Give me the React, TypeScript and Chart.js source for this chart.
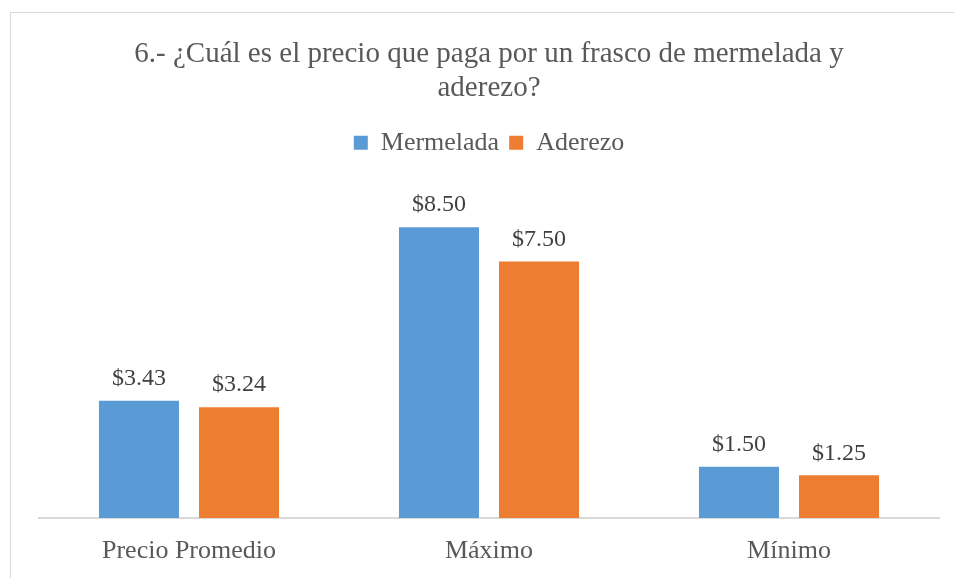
import React, { useEffect, useRef } from "react";
import { Chart, registerables } from "chart.js";

Chart.register(...registerables);

const categories = ["Precio Promedio", "Máximo", "Mínimo"];
const mermelada = [3.43, 8.5, 1.5];
const aderezo = [3.24, 7.5, 1.25];
const seriesNames = ["Mermelada", "Aderezo"];
const titleLines = ["6.- ¿Cuál es el precio que paga por un frasco de mermelada y", "aderezo?"];

const FONT = "'Liberation Serif', 'Times New Roman', serif";

const frame = {
  id: "frame",
  beforeInit(chart: any) {
    const leg = chart.legend;
    if (leg) {
      const origFit = leg.fit;
      leg.fit = function () {
        origFit.call(this);
        this.height += 10;
      };
    }
  },
  beforeDraw(chart: any) {
    const { ctx, width, height } = chart;
    ctx.save();
    ctx.fillStyle = "#ffffff";
    ctx.fillRect(0, 0, width, height);
    ctx.strokeStyle = "#d9d9d9";
    ctx.lineWidth = 1;
    ctx.strokeRect(10.5, 12.5, width + 20, height + 20);
    ctx.restore();
  },
};

const dataLabels = {
  id: "dataLabels",
  afterDatasetsDraw(chart: any) {
    const { ctx } = chart;
    ctx.save();
    ctx.font = `24px ${FONT}`;
    ctx.fillStyle = "#404040";
    ctx.textAlign = "center";
    ctx.textBaseline = "middle";
    chart.data.datasets.forEach((ds: any, i: number) => {
      const meta = chart.getDatasetMeta(i);
      meta.data.forEach((el: any, j: number) => {
        const v = ds.data[j] as number;
        ctx.fillText("$" + v.toFixed(2), el.x, el.y - 22);
      });
    });
    ctx.restore();
  },
};

export default function App() {
  const ref = useRef<HTMLCanvasElement>(null);
  useEffect(() => {
    if (!ref.current) return;
    const chart = new Chart(ref.current, {
      type: "bar",
      data: {
        labels: categories,
        datasets: [
          { label: seriesNames[0], data: mermelada, backgroundColor: "#5B9BD5", categoryPercentage: 0.667, barPercentage: 0.8 },
          { label: seriesNames[1], data: aderezo, backgroundColor: "#ED7D31", categoryPercentage: 0.667, barPercentage: 0.8 },
        ],
      },
      options: {
        responsive: false,
        animation: false,
        layout: { padding: { left: 39, right: 15, top: 0, bottom: 0 } },
        plugins: {
          title: {
            display: true,
            text: titleLines,
            color: "#595959",
            font: { family: FONT, size: 29, weight: "normal", lineHeight: 1.17 },
            padding: { top: 37, bottom: 15 },
          },
          legend: {
            display: true,
            position: "top",
            labels: {
              color: "#595959",
              font: { family: FONT, size: 26 },
              boxWidth: 14,
              boxHeight: 14,
              padding: 10,
            },
          },
          tooltip: { enabled: false },
        },
        scales: {
          x: {
            grid: { display: false, drawTicks: false },
            border: { display: true, color: "#d9d9d9", width: 2 },
            ticks: { color: "#595959", font: { family: FONT, size: 26 }, padding: 18 },
            afterFit(scale: any) {
              scale.height = 60;
            },
          },
          y: { display: false, min: 0, max: 10 },
        },
      },
      plugins: [frame, dataLabels],
    });
    return () => chart.destroy();
  }, []);
  return (
    <div style={{ position: "absolute", left: 0, top: 0, width: 954, height: 578 }}>
      <canvas ref={ref} width={954} height={578} style={{ display: "block" }} />
    </div>
  );
}
